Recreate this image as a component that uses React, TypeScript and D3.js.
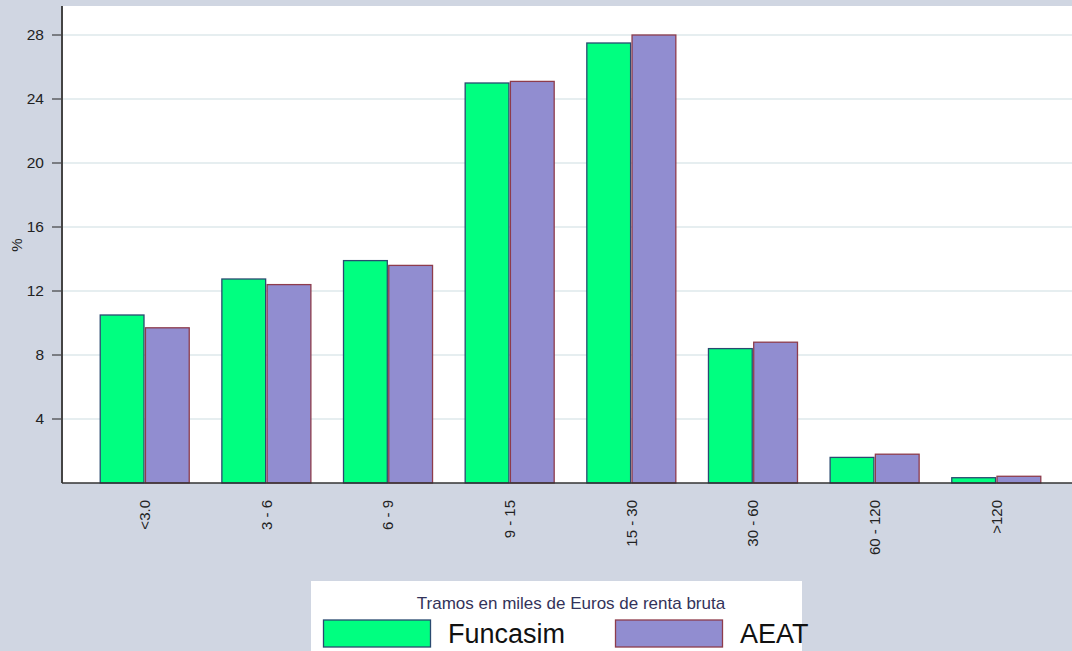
import React from "react";
import * as d3 from "d3";

const categories = ["<3.0", "3 - 6", "6 - 9", "9 - 15", "15 - 30", "30 - 60", "60 - 120", ">120"];
const funcasim = [10.5, 12.75, 13.9, 25.0, 27.5, 8.4, 1.6, 0.33];
const aeat = [9.7, 12.4, 13.6, 25.1, 28.0, 8.8, 1.8, 0.42];
const yTicks = [4, 8, 12, 16, 20, 24, 28];
const seriesNames = ["Funcasim", "AEAT"];
const legendTitle = "Tramos en miles de Euros de renta bruta";

const W = 1072;
const H = 651;
const BG = "#d0d6e2";
const GREEN = "#00ff80";
const GREEN_STROKE = "#2a4a70";
const PURPLE = "#918dd0";
const PURPLE_STROKE = "#8e3c4c";
const FONT = "'Liberation Sans', Arial, sans-serif";

export default function App() {
  const left = 62;
  const right = 1079;
  const top = 6;
  const bottom = 483;

  const y = d3.scaleLinear().domain([0, 29.8]).range([bottom, bottom - 29.8 * 16]);
  const x0 = d3.scaleBand<string>().domain(categories).range([left, right]).paddingInner(0.26).paddingOuter(0.31);
  const x1 = d3.scaleBand<string>().domain(seriesNames).range([0, x0.bandwidth()]).paddingInner(0.01);

  const series = [
    { name: "Funcasim", values: funcasim, fill: GREEN, stroke: GREEN_STROKE },
    { name: "AEAT", values: aeat, fill: PURPLE, stroke: PURPLE_STROKE },
  ];

  return (
    <svg width={W} height={H} style={{ position: "absolute", left: 0, top: 0, display: "block" }}>
      <rect x={0} y={0} width={W} height={H} fill={BG} />
      <rect x={left} y={top} width={W - left} height={bottom - top} fill="#ffffff" />
      {yTicks.map((t) => (
        <g key={t}>
          <line x1={left} x2={W} y1={y(t)} y2={y(t)} stroke="#e6eef0" strokeWidth={2} />
          <line x1={52} x2={left} y1={y(t)} y2={y(t)} stroke="#222" strokeWidth={1} />
          <text x={44} y={y(t)} dy="0.35em" textAnchor="end" fontFamily={FONT} fontSize={15.5} fill="#222">
            {t}
          </text>
        </g>
      ))}
      {series.map((s) =>
        categories.map((c, i) => {
          const bx = (x0(c) as number) + (x1(s.name) as number);
          const by = y(s.values[i]);
          return (
            <rect
              key={s.name + c}
              x={bx + 0.5}
              y={by}
              width={x1.bandwidth() - 1}
              height={bottom - by}
              fill={s.fill}
              stroke={s.stroke}
              strokeWidth={1.3}
            />
          );
        })
      )}
      <line x1={left} x2={left} y1={top} y2={bottom} stroke="#444" strokeWidth={2} />
      <line x1={left} x2={W} y1={bottom} y2={bottom} stroke="#333" strokeWidth={1.5} />
      {categories.map((c) => {
        const cx = (x0(c) as number) + x0.bandwidth() / 2;
        return (
          <text
            key={c}
            transform={`translate(${cx},${500}) rotate(-90)`}
            textAnchor="end"
            dy="0.35em"
            fontFamily={FONT}
            fontSize={15}
            fill="#222"
          >
            {c}
          </text>
        );
      })}
      <text transform={`translate(17,245) rotate(-90)`} textAnchor="middle" dy="0.35em" fontFamily={FONT} fontSize={15} fill="#222">
        %
      </text>
      <rect x={311} y={581} width={491} height={80} fill="#ffffff" />
      <text x={571} y={603} textAnchor="middle" dy="0.35em" fontFamily={FONT} fontSize={17} fill="#33335a">
        {legendTitle}
      </text>
      <rect x={323.5} y={620} width={107} height={27} fill={GREEN} stroke={GREEN_STROKE} strokeWidth={1.3} />
      <text x={448} y={634} dy="0.35em" fontFamily={FONT} fontSize={27} fill="#111">
        {seriesNames[0]}
      </text>
      <rect x={615.5} y={620} width={107} height={27} fill={PURPLE} stroke={PURPLE_STROKE} strokeWidth={1.3} />
      <text x={740} y={634} dy="0.35em" fontFamily={FONT} fontSize={27} fill="#111">
        {seriesNames[1]}
      </text>
    </svg>
  );
}
